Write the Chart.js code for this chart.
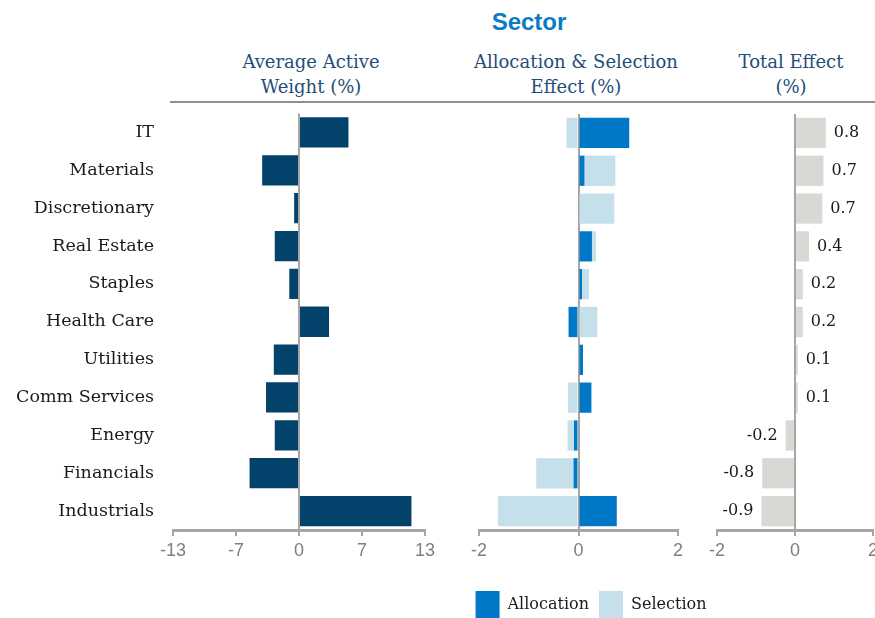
<!DOCTYPE html>
<html>
<head>
<meta charset="utf-8">
<script src="https://cdn.jsdelivr.net/npm/chart.js@4.4.1/dist/chart.umd.min.js"></script>
<style>
  html, body { margin: 0; padding: 0; background: #fff; overflow: hidden; }
  #page { position: relative; width: 875px; height: 618px; overflow: hidden; }
  #page canvas { position: absolute; }
  .txt { position: absolute; text-align: center; white-space: nowrap; }
  .title { font: bold 24px "Liberation Sans", sans-serif; color: #0a7bc4; top: 7px; left: 429px; width: 200px; line-height: 30px; }
  .head { font: 18px "DejaVu Serif", serif; color: #1f4e79; line-height: 25px; top: 49px; }
  .rule { position: absolute; left: 170px; top: 101px; width: 705px; height: 2px; background: #8f8f8f; }
</style>
</head>
<body>
<div id="page">
  <div class="txt title">Sector</div>
  <div class="txt head" style="left:211px;width:200px">Average Active<br>Weight (%)</div>
  <div class="txt head" style="left:466px;width:220px">Allocation &amp; Selection<br>Effect (%)</div>
  <div class="txt head" style="left:711px;width:160px">Total Effect<br>(%)</div>
  <div class="rule"></div>
  <canvas id="weight" width="445" height="486" style="left:0;top:84px"></canvas>
  <canvas id="effect" width="270" height="525" style="left:456px;top:104px"></canvas>
  <canvas id="total" width="200" height="466" style="left:700px;top:104px"></canvas>
</div>
<script>
const sectors = ["IT", "Materials", "Discretionary", "Real Estate", "Staples", "Health Care",
  "Utilities", "Comm Services", "Energy", "Financials", "Industrials"];
const activeWeight = [5.1, -3.8, -0.5, -2.5, -1.0, 3.1, -2.6, -3.4, -2.5, -5.1, 11.6];
const allocation = [1.02, 0.12, -0.02, 0.27, 0.07, -0.2, 0.09, 0.26, -0.09, -0.1, 0.77];
const selection = [-0.24, 0.62, 0.72, 0.08, 0.14, 0.38, 0, -0.21, -0.13, -0.75, -1.62];
const totalEffect = [0.79, 0.73, 0.70, 0.36, 0.2, 0.2, 0.07, 0.07, -0.24, -0.84, -0.86];

const axisGrey = "#a6a6a6";
const tickFont = { family: "Liberation Sans", size: 18 };

// round half away from zero so -6.5 shows as -7
const roundLabel = (v) => String(Math.sign(v) * Math.round(Math.abs(v)));

const xAxis = (min, max, step, height) => ({
  min: min,
  max: max,
  afterFit: (s) => { s.height = height; },
  ticks: { stepSize: step, font: tickFont, color: "#7f7f7f", padding: 4, maxRotation: 0, callback: roundLabel },
  grid: {
    color: (c) => (c.tick && c.tick.value === 0 ? axisGrey : "rgba(0,0,0,0)"),
    lineWidth: 2,
    tickColor: axisGrey,
    tickLength: 6,
  },
  border: { color: axisGrey, width: 3 },
});

const hiddenAxis = (pos, w) => ({
  position: pos,
  afterFit: (s) => { s.width = w; },
  ticks: { display: false },
  grid: { display: false },
  border: { display: false },
});

const baseOptions = {
  indexAxis: "y",
  responsive: false,
  animation: false,
  events: [],
  plugins: { legend: { display: false }, tooltip: { enabled: false } },
};

new Chart(document.getElementById("weight"), {
  type: "bar",
  data: {
    labels: sectors,
    datasets: [{ data: activeWeight, backgroundColor: "#03426a", barPercentage: 0.8, categoryPercentage: 1 }],
  },
  options: {
    ...baseOptions,
    layout: { padding: { top: 10, right: 20 } },
    scales: {
      x: xAxis(-13, 13, 6.5, 40),
      y: {
        afterFit: (s) => { s.width = 173; },
        ticks: { font: { family: "DejaVu Serif", size: 17.5 }, color: "#1a1a1a", padding: 19 },
        grid: { display: false, drawTicks: false },
        border: { display: false },
      },
    },
  },
});

new Chart(document.getElementById("effect"), {
  type: "bar",
  data: {
    labels: sectors,
    datasets: [
      { label: "Allocation", data: allocation, backgroundColor: "#0078c8", barPercentage: 0.8, categoryPercentage: 1 },
      { label: "Selection", data: selection, backgroundColor: "#c5dfeb", barPercentage: 0.8, categoryPercentage: 1 },
    ],
  },
  options: {
    ...baseOptions,
    layout: { padding: { top: 10 } },
    plugins: {
      tooltip: { enabled: false },
      legend: {
        display: true,
        position: "bottom",
        labels: {
          boxWidth: 24,
          boxHeight: 28,
          padding: 10,
          color: "#1a1a1a",
          font: { family: "DejaVu Serif", size: 16 },
        },
      },
    },
    scales: {
      x: { ...xAxis(-2, 2, 2, 51), stacked: true },
      y: { ...hiddenAxis("left", 23), stacked: true },
      yRight: { ...hiddenAxis("right", 48), type: "category" },
    },
  },
});

const valueLabels = {
  id: "valueLabels",
  afterDatasetsDraw(chart) {
    const ctx = chart.ctx;
    const vals = chart.data.datasets[0].data;
    ctx.save();
    ctx.font = '16px "DejaVu Serif"';
    ctx.fillStyle = "#1a1a1a";
    ctx.textBaseline = "middle";
    chart.getDatasetMeta(0).data.forEach((bar, i) => {
      const txt = vals[i].toFixed(1);
      if (vals[i] >= 0) {
        ctx.textAlign = "left";
        ctx.fillText(txt, bar.x + 8, bar.y);
      } else {
        ctx.textAlign = "right";
        ctx.fillText(txt, bar.x - 8, bar.y);
      }
    });
    ctx.restore();
  },
};

new Chart(document.getElementById("total"), {
  type: "bar",
  data: {
    labels: sectors,
    datasets: [{ data: totalEffect, backgroundColor: "#d8d8d4", barPercentage: 0.8, categoryPercentage: 1 }],
  },
  options: {
    ...baseOptions,
    layout: { padding: { top: 10, left: 17, right: 27 } },
    scales: {
      x: xAxis(-2, 2, 2, 40),
      y: { display: false },
    },
  },
  plugins: [valueLabels],
});
</script>
</body>
</html>
